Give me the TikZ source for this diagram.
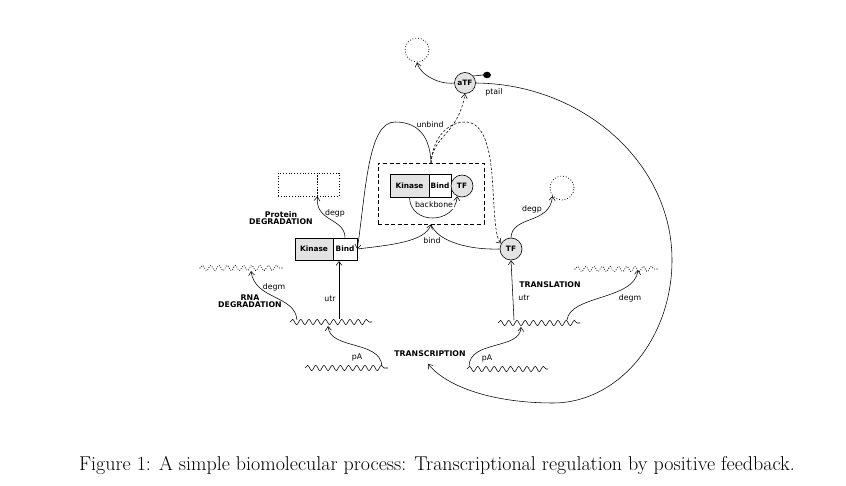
\documentclass[tikz,border=0pt]{standalone}
\usepackage{fontspec}
\usetikzlibrary{arrows.meta,decorations.pathmorphing,shapes.geometric}
\newfontfamily\cf{DejaVu Sans}
\tikzset{
  lbl/.style={font=\cf\fontsize{7.8}{8.5}\selectfont, inner sep=0pt},
  blbl/.style={font=\cf\bfseries\fontsize{7.8}{8.5}\selectfont, inner sep=0pt, align=center},
  kbox/.style={draw, line width=0.6pt, fill=gray!22, minimum height=22pt, inner sep=0pt, font=\cf\bfseries\fontsize{7.4}{8}\selectfont},
  bbox/.style={draw, line width=0.6pt, fill=white, minimum height=22pt, inner sep=0pt, font=\cf\bfseries\fontsize{7.4}{8}\selectfont},
  tfc/.style={circle, draw, line width=0.6pt, fill=gray!22, minimum size=22pt, inner sep=0pt, font=\cf\bfseries\fontsize{7.4}{8}\selectfont},
  ghostc/.style={circle, draw, dotted, line width=0.8pt, minimum size=24pt, inner sep=0pt},
  ghostb/.style={draw, dotted, line width=0.8pt, minimum height=23pt, inner sep=0pt},
  conn/.style={line width=0.55pt, -{Straight Barb[length=4pt,width=6pt]}},
  dconn/.style={conn, dash pattern=on 2.5pt off 1.8pt},
  wave/.style={line width=0.55pt, decorate, decoration={snake, segment length=8.2pt, amplitude=2.6pt}},
  dwave/.style={wave, line width=1.1pt, line cap=round, dash pattern=on 0pt off 2.4pt},
}
\begin{document}
\begin{tikzpicture}[x=1pt,y=-1pt]
\useasboundingbox (0,0) rectangle (846,486);

% top
\node[tfc, minimum size=21pt] (atf) at (465,83) {aTF};
\node[ellipse, fill=black, minimum width=8pt, minimum height=6.5pt, inner sep=0pt] (dot) at (487,75) {};
\draw[line width=0.6pt] (atf.40) -- (dot.west);
\node[lbl] (ptail) at (494,92) {ptail};
\node[ghostc] (gtop) at (417,50) {};
\draw[conn] (atf.west) .. controls (440,85) and (420,75) .. (gtop.south);

% complex
\node[draw, dashed, dash pattern=on 4pt off 2.6pt, line width=0.9pt, minimum width=106pt, minimum height=61pt, inner sep=0pt] (cx) at (431,193.5) {};
\node[kbox, minimum width=39pt, minimum height=23pt] (kin1) at (409.5,185.5) {Kinase};
\node[bbox, minimum width=22pt, minimum height=23pt] (bind1) at (440,185.5) {Bind};
\node[tfc] (tf1) at (462,186) {TF};
\draw[conn] (kin1.south) .. controls (410,225) and (455,225) .. (tf1.-115);
\node[lbl, fill=white, inner sep=0.5pt] (backbone) at (434,205) {backbone};

% left protein
\node[kbox, minimum width=38pt] (kin2) at (314,249) {Kinase};
\node[bbox, minimum width=24pt] (bind2) at (345,249) {Bind};
\node[ghostb, minimum width=39pt] (g1a) at (297.5,184.5) {};
\node[ghostb, minimum width=22pt] (g1b) at (328,184.5) {};
\draw[conn] (bind2.north) .. controls (345,218) and (315,222) .. (g1a.south east);
\node[lbl] (degp1) at (335,213) {degp};
\node[blbl] (protein) at (281,218.5) {Protein\\[-1.5pt]DEGRADATION};

% right TF
\node[tfc] (tf2) at (511,249) {TF};
\node[ghostc] (gr) at (562,188) {};
\draw[conn] (tf2.north) .. controls (512,215) and (550,225) .. (gr.-140);
\node[lbl] (degp2) at (532,209) {degp};

% unbind / bind
\coordinate (ctop) at (431,163);
\draw[conn] (ctop) .. controls (430,130) and (412,122) .. (395,122) .. controls (368,122) and (366,190) .. (bind2.east);
\draw[dconn] (ctop) .. controls (433,135) and (458,135) .. (atf.south);
\draw[dconn] (ctop) .. controls (433,135) and (450,122) .. (465,122) .. controls (485,122) and (491,150) .. (493,190) .. controls (495,225) and (496,238) .. (tf2.150);
\node[lbl] (unbind) at (430,125) {unbind};
\draw[conn] (bind2.east) .. controls (390,245) and (425,242) .. (cx.south);
\draw[line width=0.55pt] (tf2.west) .. controls (470,250) and (438,242) .. (cx.south);
\node[lbl] (bindl) at (432,241) {bind};

% left RNA
\coordinate (m1a) at (290,322); \coordinate (m1b) at (372,322);
\draw[wave] (m1a) -- (m1b);
\coordinate (d1a) at (200,268); \coordinate (d1b) at (282,268);
\draw[dwave] (d1a) -- (d1b);
\coordinate (g1s) at (305,368); \coordinate (g1e) at (388,368);
\draw[wave] (g1s) -- (g1e);
\coordinate (m1u) at (339,319); \coordinate (kin2b) at (339,261);
\draw[conn] (m1u) -- (kin2b);
\node[lbl] (utr1) at (330,299) {utr};
\coordinate (m1d) at (297,320); \coordinate (d1t) at (251,271);
\draw[conn] (m1d) .. controls (295,295) and (255,300) .. (d1t);
\node[lbl] (degm1) at (274,287) {degm};
\node[blbl] (rnadeg) at (250,301.5) {RNA\\[-1.5pt]DEGRADATION};
\coordinate (g1p) at (382,366); \coordinate (m1p) at (328,326);
\draw[conn] (g1p) .. controls (380,340) and (330,350) .. (m1p);
\node[lbl] (pa1) at (357,357) {pA};

% right RNA
\coordinate (m2a) at (498,323); \coordinate (m2b) at (580,323);
\draw[wave] (m2a) -- (m2b);
\coordinate (d2a) at (575,269); \coordinate (d2b) at (657,269);
\draw[dwave] (d2a) -- (d2b);
\coordinate (g2s) at (467,369); \coordinate (g2e) at (548,369);
\draw[wave] (g2s) -- (g2e);
\coordinate (m2u) at (514,320);
\draw[conn] (m2u) -- (tf2.south);
\node[lbl] (utr2) at (524,298) {utr};
\node[blbl] (transl) at (550,285) {TRANSLATION};
\coordinate (m2d) at (567,320); \coordinate (d2t) at (638,270);
\draw[conn] (m2d) .. controls (570,295) and (635,300) .. (d2t);
\node[lbl] (degm2) at (630,298) {degm};
\coordinate (g2p) at (469,366); \coordinate (m2p) at (521,327);
\draw[conn] (g2p) .. controls (470,340) and (520,350) .. (m2p);
\node[lbl] (pa2) at (487,358) {pA};

% transcription feedback
\node[blbl] (transc) at (430,354) {TRANSCRIPTION};
\coordinate (trin) at (428,364);
\draw[conn] (atf.east) .. controls (583,84) and (672,163) .. (672,260) .. controls (672,339) and (618,403) .. (553,403) .. controls (500,403) and (450,390) .. (trin);

% caption
\node[font=\fontsize{20}{23}\selectfont, inner sep=0pt] (cap) at (437,465) {Figure 1: A simple biomolecular process: Transcriptional regulation by positive feedback.};
\end{tikzpicture}
\end{document}
